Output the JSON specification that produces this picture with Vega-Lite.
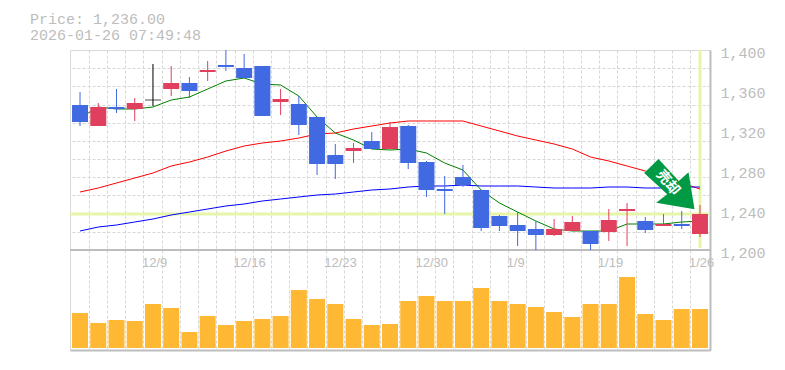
{"$schema":"https://vega.github.io/schema/vega-lite/v6.json","width":640,"height":300,"autosize":{"type":"none"},"padding":{"left":70,"top":50,"right":75,"bottom":20},"background":"white","title":{"text":["Price: 1,236.00","2026-01-26 07:49:48"],"anchor":"start","frame":"group","dx":-40,"offset":2,"font":"Liberation Mono","fontSize":15,"fontWeight":"normal","color":"#bdbdbd","lineHeight":16},"datasets":{"d":[
{"i":"12/3","top":1345,"bot":1328,"high":1358,"low":1324,"dir":"down","vol":35,"ma5":1332,"ma25":1258,"ma75":1219},
{"i":"12/4","top":1343,"bot":1324,"high":1347,"low":1324,"dir":"up","vol":25,"ma5":1343,"ma25":1262,"ma75":1223},
{"i":"12/5","top":1343,"bot":1341,"high":1361,"low":1337,"dir":"down","vol":28,"ma5":1341,"ma25":1267,"ma75":1225},
{"i":"12/8","top":1347,"bot":1341,"high":1352,"low":1329,"dir":"up","vol":27,"ma5":1341,"ma25":1272,"ma75":1228},
{"i":"12/9","top":1350,"bot":1350,"high":1386,"low":1344,"dir":"flat","vol":44,"ma5":1343,"ma25":1277,"ma75":1231},
{"i":"12/10","top":1367,"bot":1361,"high":1384,"low":1354,"dir":"up","vol":40,"ma5":1350,"ma25":1284,"ma75":1235},
{"i":"12/11","top":1367,"bot":1359,"high":1373,"low":1352,"dir":"down","vol":16,"ma5":1353,"ma25":1288,"ma75":1238},
{"i":"12/12","top":1380,"bot":1378,"high":1389,"low":1369,"dir":"up","vol":32,"ma5":1361,"ma25":1293,"ma75":1241},
{"i":"12/15","top":1385,"bot":1383,"high":1400,"low":1379,"dir":"down","vol":23,"ma5":1369,"ma25":1299,"ma75":1244},
{"i":"12/16","top":1382,"bot":1372,"high":1396,"low":1372,"dir":"down","vol":27,"ma5":1372,"ma25":1304,"ma75":1246},
{"i":"12/17","top":1384,"bot":1334,"high":1384,"low":1334,"dir":"down","vol":29,"ma5":1366,"ma25":1307,"ma75":1249},
{"i":"12/18","top":1351,"bot":1348,"high":1361,"low":1335,"dir":"up","vol":32,"ma5":1365,"ma25":1309,"ma75":1251},
{"i":"12/19","top":1346,"bot":1325,"high":1354,"low":1315,"dir":"down","vol":58,"ma5":1354,"ma25":1312,"ma75":1253},
{"i":"12/22","top":1333,"bot":1286,"high":1333,"low":1275,"dir":"down","vol":49,"ma5":1333,"ma25":1316,"ma75":1255},
{"i":"12/23","top":1295,"bot":1286,"high":1306,"low":1271,"dir":"down","vol":44,"ma5":1317,"ma25":1317,"ma75":1256},
{"i":"12/24","top":1302,"bot":1299,"high":1307,"low":1287,"dir":"up","vol":29,"ma5":1310,"ma25":1321,"ma75":1258},
{"i":"12/25","top":1309,"bot":1301,"high":1318,"low":1301,"dir":"down","vol":23,"ma5":1301,"ma25":1324,"ma75":1260},
{"i":"12/26","top":1323,"bot":1301,"high":1328,"low":1301,"dir":"up","vol":24,"ma5":1300,"ma25":1327,"ma75":1261},
{"i":"12/29","top":1324,"bot":1287,"high":1325,"low":1281,"dir":"down","vol":47,"ma5":1301,"ma25":1329,"ma75":1263},
{"i":"12/30","top":1288,"bot":1260,"high":1289,"low":1253,"dir":"down","vol":52,"ma5":1297,"ma25":1329,"ma75":1264},
{"i":"1/5","top":1261,"bot":1259,"high":1274,"low":1236,"dir":"down","vol":47,"ma5":1287,"ma25":1329,"ma75":1264},
{"i":"1/6","top":1273,"bot":1265,"high":1285,"low":1263,"dir":"down","vol":47,"ma5":1280,"ma25":1329,"ma75":1265},
{"i":"1/7","top":1260,"bot":1222,"high":1260,"low":1219,"dir":"down","vol":60,"ma5":1260,"ma25":1324,"ma75":1264},
{"i":"1/8","top":1234,"bot":1224,"high":1235,"low":1219,"dir":"down","vol":47,"ma5":1247,"ma25":1319,"ma75":1264},
{"i":"1/9","top":1225,"bot":1219,"high":1238,"low":1204,"dir":"down","vol":44,"ma5":1238,"ma25":1314,"ma75":1264},
{"i":"1/13","top":1221,"bot":1215,"high":1229,"low":1200,"dir":"down","vol":41,"ma5":1229,"ma25":1310,"ma75":1263},
{"i":"1/14","top":1221,"bot":1215,"high":1231,"low":1214,"dir":"up","vol":36,"ma5":1221,"ma25":1306,"ma75":1262},
{"i":"1/15","top":1228,"bot":1219,"high":1234,"low":1219,"dir":"up","vol":31,"ma5":1219,"ma25":1301,"ma75":1262},
{"i":"1/16","top":1219,"bot":1206,"high":1219,"low":1200,"dir":"down","vol":44,"ma5":1219,"ma25":1293,"ma75":1262},
{"i":"1/19","top":1230,"bot":1218,"high":1241,"low":1209,"dir":"up","vol":44,"ma5":1219,"ma25":1289,"ma75":1263},
{"i":"1/20","top":1241,"bot":1239,"high":1247,"low":1204,"dir":"up","vol":71,"ma5":1226,"ma25":1284,"ma75":1263},
{"i":"1/21","top":1229,"bot":1220,"high":1233,"low":1217,"dir":"down","vol":34,"ma5":1226,"ma25":1279,"ma75":1262},
{"i":"1/22","top":1226,"bot":1224,"high":1236,"low":1224,"dir":"up","vol":28,"ma5":1226,"ma25":1273,"ma75":1262},
{"i":"1/23","top":1226,"bot":1224,"high":1239,"low":1221,"dir":"down","vol":39,"ma5":1228,"ma25":1267,"ma75":1263},
{"i":"1/26","top":1236,"bot":1216,"high":1245,"low":1213,"dir":"up","vol":39,"ma5":1229,"ma25":1261,"ma75":1263}
],"last":[{"i":"1/26","price":1236,"lo":1202,"hi":1400,"floor":1200}],"sign":[{"i":"1/22","price":1266,"label":"売却"}]},
"data":{"name":"d"},
"encoding":{"x":{"field":"i","type":"ordinal","sort":null,"title":null,"axis":null,"scale":{"paddingInner":0,"paddingOuter":0.05,"align":0.5}}},
"layer":[
{"layer":[
{"mark":{"type":"rule","opacity":0},"encoding":{"x":{"field":"i","type":"ordinal","sort":null,"title":null,"axis":{"orient":"bottom","bandPosition":0,"grid":true,"gridColor":"#d6d6d6","gridDash":[3,2],"gridWidth":1,"domain":true,"domainColor":"#bdbdbd","domainWidth":2,"ticks":false,"labels":false,"title":null}},"y":{"field":"low","type":"quantitative","scale":{"domain":[1100,1400],"nice":false,"zero":false},"title":null,"axis":{"orient":"right","values":[1218.18,1236.36,1254.55,1272.73,1290.91,1309.09,1327.27,1345.45,1363.64,1381.82,1400],"grid":true,"gridColor":"#d6d6d6","gridDash":[3,2],"gridWidth":1,"domain":false,"ticks":false,"labels":false,"title":null}}}},
{"layer":[
{"data":{"name":"last"},"mark":{"type":"rule","color":"#e6f5aa","strokeWidth":3},"encoding":{"x":null,"y":{"field":"price","type":"quantitative"}}},
{"data":{"name":"last"},"mark":{"type":"rule","color":"#e6f5aa","strokeWidth":3},"encoding":{"y":{"field":"hi","type":"quantitative"},"y2":{"field":"lo"}}},
{"data":{"name":"last"},"mark":{"type":"rule","color":"#bdbdbd","strokeWidth":2},"encoding":{"x":null,"y":{"field":"floor","type":"quantitative"}}},
{"mark":{"type":"line","color":"#ff0000","strokeWidth":1},"encoding":{"y":{"field":"ma25","type":"quantitative"}}},
{"mark":{"type":"line","color":"#0000ff","strokeWidth":1},"encoding":{"y":{"field":"ma75","type":"quantitative"}}},
{"mark":{"type":"line","color":"#008000","strokeWidth":1},"encoding":{"y":{"field":"ma5","type":"quantitative"}}},
{"mark":{"type":"rule","strokeWidth":1},"encoding":{"y":{"field":"high","type":"quantitative"},"y2":{"field":"low"},"color":{"field":"dir","type":"nominal","legend":null,"scale":{"domain":["up","down","flat"],"range":["#e0405e","#4169e1","#000000"]}}}},
{"mark":{"type":"bar","size":16},"transform":[{"filter":"datum.dir!='flat'"}],"encoding":{"y":{"field":"top","type":"quantitative"},"y2":{"field":"bot"},"color":{"field":"dir","type":"nominal","legend":null}}},
{"mark":{"type":"tick","thickness":1,"size":16,"orient":"horizontal"},"transform":[{"filter":"datum.dir=='flat'"}],"encoding":{"y":{"field":"top","type":"quantitative"},"color":{"field":"dir","type":"nominal","legend":null}}},
{"data":{"name":"sign"},"mark":{"type":"point","filled":true,"opacity":1,"strokeWidth":0,"color":"#009944","size":6400,"shape":"M -0.125 -0.625 L -0.4825 -0.275 L 0.0925 0.2575 L -0.1825 0.4675 L 0.775 0.6325 L 0.625 -0.2925 L 0.3825 -0.075 Z"},"encoding":{"y":{"field":"price","type":"quantitative"}}},
{"data":{"name":"sign"},"mark":{"type":"text","color":"white","font":"Noto Sans CJK JP","fontWeight":"bold","fontSize":14,"angle":50,"align":"center","baseline":"middle","dx":2,"dy":-4},"encoding":{"y":{"field":"price","type":"quantitative"},"text":{"field":"label"}}},
{"mark":{"type":"rule","opacity":0},"encoding":{"y":{"field":"low","type":"quantitative","axis":{"orient":"right","values":[1200,1240,1280,1320,1360,1400],"format":",d","grid":false,"domain":true,"domainColor":"#bdbdbd","domainWidth":2,"ticks":false,"labelFont":"Liberation Mono","labelFontSize":15,"labelColor":"#bdbdbd","labelPadding":10,"labelOffset":2,"title":null}}}}
]}
],"resolve":{"axis":{"y":"independent","x":"independent"}}},
{"layer":[
{"mark":{"type":"bar","size":16,"color":"#ffb833"},"encoding":{"y":{"field":"vol","type":"quantitative","scale":{"domain":[-2,298],"nice":false,"zero":false},"axis":null}}}
],"encoding":{"x":{"field":"i","type":"ordinal","sort":null,"axis":{"orient":"bottom","offset":-94,"values":["12/9","12/16","12/23","12/30","1/9","1/19","1/26"],"domain":false,"ticks":false,"grid":false,"labelAngle":0,"labelFont":"Liberation Sans","labelFontSize":13,"labelColor":"#bdbdbd","labelAlign":"left","labelOffset":-11,"labelPadding":0,"title":null}}}}
],"resolve":{"scale":{"y":"independent"},"axis":{"x":"independent"}}}
